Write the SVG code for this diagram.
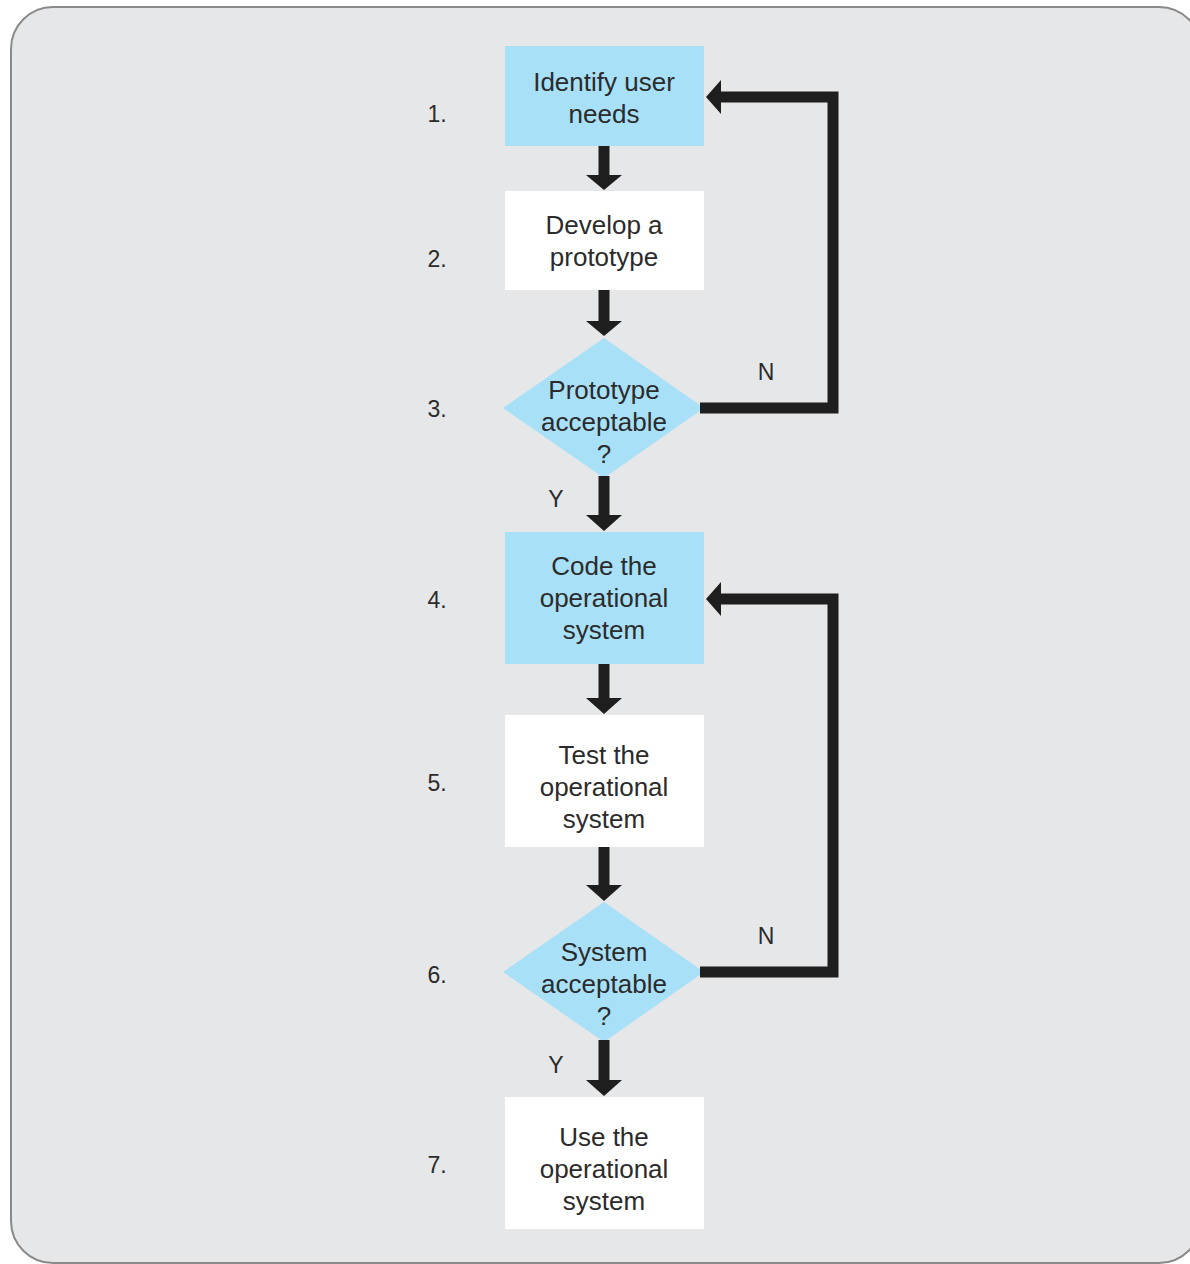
<svg xmlns="http://www.w3.org/2000/svg" width="1190" height="1264" viewBox="0 0 1190 1264">
<defs>
<style>
.t{font-family:"Liberation Sans",Arial,sans-serif;font-size:26px;fill:#2b2b2b;text-anchor:middle}
.n{font-family:"Liberation Sans",Arial,sans-serif;font-size:23px;fill:#2b2b2b;text-anchor:middle}
.blue{fill:#a8e0f8}
.white{fill:#ffffff}
.line{fill:none;stroke:#1e1e1e;stroke-width:11}
.head{fill:#1e1e1e}
</style>
</defs>
<rect x="0" y="0" width="1190" height="1264" fill="#ffffff"/>
<rect x="11" y="7" width="1190" height="1256" rx="42" ry="42" fill="#e6e7e8" stroke="#8a8a8a" stroke-width="2"/>

<g id="labels">
<text class="n" x="437" y="122">1.</text>
<text class="n" x="437" y="267">2.</text>
<text class="n" x="437" y="417">3.</text>
<text class="n" x="437" y="608">4.</text>
<text class="n" x="437" y="791">5.</text>
<text class="n" x="437" y="983">6.</text>
<text class="n" x="437" y="1173">7.</text>
<text class="n" x="766" y="380">N</text>
<text class="n" x="766" y="944">N</text>
<text class="n" x="556" y="507">Y</text>
<text class="n" x="556" y="1073">Y</text>
</g>

<g id="node1">
<rect class="blue" x="505" y="46" width="199" height="100"/>
<text class="t" x="604" y="91">Identify user</text>
<text class="t" x="604" y="123">needs</text>
</g>
<g id="node2">
<rect class="white" x="505" y="191" width="199" height="99"/>
<text class="t" x="604" y="234">Develop a</text>
<text class="t" x="604" y="266">prototype</text>
</g>
<g id="node3">
<polygon class="blue" points="604,338 704,408 604,478 503,408"/>
<text class="t" x="604" y="399">Prototype</text>
<text class="t" x="604" y="431">acceptable</text>
<text class="t" x="604" y="463">?</text>
</g>
<g id="node4">
<rect class="blue" x="505" y="532" width="199" height="132"/>
<text class="t" x="604" y="575">Code the</text>
<text class="t" x="604" y="607">operational</text>
<text class="t" x="604" y="639">system</text>
</g>
<g id="node5">
<rect class="white" x="505" y="715" width="199" height="132"/>
<text class="t" x="604" y="764">Test the</text>
<text class="t" x="604" y="796">operational</text>
<text class="t" x="604" y="828">system</text>
</g>
<g id="node6">
<polygon class="blue" points="604,902 704,972 604,1042 503,972"/>
<text class="t" x="604" y="961">System</text>
<text class="t" x="604" y="993">acceptable</text>
<text class="t" x="604" y="1025">?</text>
</g>
<g id="node7">
<rect class="white" x="505" y="1097" width="199" height="132"/>
<text class="t" x="604" y="1146">Use the</text>
<text class="t" x="604" y="1178">operational</text>
<text class="t" x="604" y="1210">system</text>
</g>

<g id="connectors">
<line class="line" x1="604" y1="146" x2="604" y2="176"/>
<polygon class="head" points="586,175 622,175 604,190"/>
<line class="line" x1="604" y1="290" x2="604" y2="322"/>
<polygon class="head" points="586,321 622,321 604,336"/>
<line class="line" x1="604" y1="476" x2="604" y2="516"/>
<polygon class="head" points="586,515 622,515 604,531"/>
<line class="line" x1="604" y1="664" x2="604" y2="699"/>
<polygon class="head" points="586,698 622,698 604,714"/>
<line class="line" x1="604" y1="847" x2="604" y2="886"/>
<polygon class="head" points="586,885 622,885 604,901"/>
<line class="line" x1="604" y1="1040" x2="604" y2="1081"/>
<polygon class="head" points="586,1080 622,1080 604,1096"/>

<polyline class="line" points="700,408 833,408 833,97 720,97"/>
<polygon class="head" points="706,97 721,80 721,114"/>
<polyline class="line" points="700,972 833,972 833,599 720,599"/>
<polygon class="head" points="706,599 721,582 721,616"/>
</g>
</svg>
